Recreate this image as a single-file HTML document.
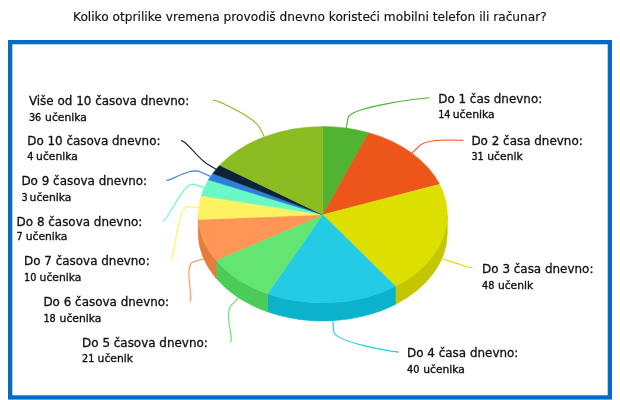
<!DOCTYPE html>
<html lang="sr"><head><meta charset="utf-8"><title>Anketa</title>
<style>html,body{margin:0;padding:0;background:#fff}body{width:620px;height:400px;overflow:hidden}svg{display:block}.t{font-family:"DejaVu Sans","Liberation Sans",sans-serif;fill:#111;stroke:#111;stroke-width:0.3px}.n{font-family:"DejaVu Sans Condensed","DejaVu Sans","Liberation Sans",sans-serif}.b{font-family:"DejaVu Sans","Liberation Sans",sans-serif;fill:#111;stroke:#111;stroke-width:0.35px}</style></head><body>
<svg width="620" height="400" viewBox="0 0 620 400">
<rect x="0" y="0" width="620" height="400" fill="#ffffff"/>
<text class="t" x="309.9" y="21" font-size="12.19" text-anchor="middle" style="stroke-width:0.15px">Koliko otprilike vremena provodiš dnevno koristeći mobilni telefon ili računar?</text>
<rect x="10.15" y="42.15" width="599.70" height="355.30" fill="none" stroke="#056bc3" stroke-width="4.30"/>
<path d="M447.25 214.70 A124.50 88.20 0 0 1 395.38 286.34 L395.38 304.44 A124.50 88.20 0 0 0 447.25 232.80 Z" fill="#c4c600" stroke="#c4c600" stroke-width="0.6" stroke-linejoin="round"/>
<path d="M395.38 286.34 A124.50 88.20 0 0 1 267.43 293.72 L267.43 311.82 A124.50 88.20 0 0 0 395.38 304.44 Z" fill="#0bb2cc" stroke="#0bb2cc" stroke-width="0.6" stroke-linejoin="round"/>
<path d="M267.43 293.72 A124.50 88.20 0 0 1 216.07 260.17 L216.07 278.27 A124.50 88.20 0 0 0 267.43 311.82 Z" fill="#4bcc59" stroke="#4bcc59" stroke-width="0.6" stroke-linejoin="round"/>
<path d="M216.07 260.17 A124.50 88.20 0 0 1 198.25 214.70 L198.25 232.80 A124.50 88.20 0 0 0 216.07 278.27 Z" fill="#e67d3c" stroke="#e67d3c" stroke-width="0.6" stroke-linejoin="round"/>
<path d="M322.75 214.70 L322.75 126.50 A124.50 88.20 0 0 1 368.83 132.76 Z" fill="#50B432" stroke="#50B432" stroke-width="0.5" stroke-linejoin="round"/>
<path d="M322.75 214.70 L368.83 132.76 A124.50 88.20 0 0 1 439.61 184.28 Z" fill="#ED561B" stroke="#ED561B" stroke-width="0.5" stroke-linejoin="round"/>
<path d="M322.75 214.70 L439.61 184.28 A124.50 88.20 0 0 1 395.38 286.34 Z" fill="#DDDF00" stroke="#DDDF00" stroke-width="0.5" stroke-linejoin="round"/>
<path d="M322.75 214.70 L395.38 286.34 A124.50 88.20 0 0 1 267.43 293.72 Z" fill="#24CBE5" stroke="#24CBE5" stroke-width="0.5" stroke-linejoin="round"/>
<path d="M322.75 214.70 L267.43 293.72 A124.50 88.20 0 0 1 216.07 260.17 Z" fill="#64E572" stroke="#64E572" stroke-width="0.5" stroke-linejoin="round"/>
<path d="M322.75 214.70 L216.07 260.17 A124.50 88.20 0 0 1 198.43 219.48 Z" fill="#FF9655" stroke="#FF9655" stroke-width="0.5" stroke-linejoin="round"/>
<path d="M322.75 214.70 L198.43 219.48 A124.50 88.20 0 0 1 201.16 195.74 Z" fill="#FFF263" stroke="#FFF263" stroke-width="0.5" stroke-linejoin="round"/>
<path d="M322.75 214.70 L201.16 195.74 A124.50 88.20 0 0 1 208.38 179.85 Z" fill="#6AF9C4" stroke="#6AF9C4" stroke-width="0.5" stroke-linejoin="round"/>
<path d="M322.75 214.70 L208.38 179.85 A124.50 88.20 0 0 1 212.75 173.39 Z" fill="#2f7ed8" stroke="#2f7ed8" stroke-width="0.5" stroke-linejoin="round"/>
<path d="M322.75 214.70 L212.75 173.39 A124.50 88.20 0 0 1 219.70 165.20 Z" fill="#0d233a" stroke="#0d233a" stroke-width="0.5" stroke-linejoin="round"/>
<path d="M322.75 214.70 L219.70 165.20 A124.50 88.20 0 0 1 322.75 126.50 Z" fill="#8bbc21" stroke="#8bbc21" stroke-width="0.5" stroke-linejoin="round"/>
<path d="M429.30 97.70 C424.30 97.70 350.28 106.87 348.25 117.47 L346.21 128.08" fill="none" stroke="#50B432" stroke-width="1.15"/>
<path d="M463.30 140.30 C458.30 140.30 427.45 138.12 419.71 145.65 L411.97 153.18" fill="none" stroke="#ED561B" stroke-width="1.15"/>
<path d="M472.50 267.70 C467.50 267.70 462.41 265.03 452.09 261.86 L441.77 258.69" fill="none" stroke="#DDDF00" stroke-width="1.15"/>
<path d="M399.00 352.10 C394.00 352.10 334.61 342.24 333.73 331.47 L332.85 320.71" fill="none" stroke="#24CBE5" stroke-width="1.15"/>
<path d="M230.00 341.70 C235.00 341.70 223.72 313.53 231.04 305.59 L238.36 297.65" fill="none" stroke="#64E572" stroke-width="1.15"/>
<path d="M189.50 301.40 C194.50 301.40 183.09 265.03 193.41 261.86 L203.73 258.69" fill="none" stroke="#FF9655" stroke-width="1.15"/>
<path d="M170.00 260.40 C175.00 260.40 177.13 205.79 187.90 206.67 L198.66 207.54" fill="none" stroke="#FFF263" stroke-width="1.15"/>
<path d="M162.50 221.40 C167.50 221.40 183.68 181.05 193.96 184.36 L204.24 187.67" fill="none" stroke="#6AF9C4" stroke-width="1.15"/>
<path d="M166.40 180.40 C171.40 180.40 191.00 167.25 200.74 171.92 L210.48 176.59" fill="none" stroke="#2f7ed8" stroke-width="1.15"/>
<path d="M181.00 140.40 C186.00 140.40 197.56 158.09 206.82 163.66 L216.07 169.23" fill="none" stroke="#0d233a" stroke-width="1.15"/>
<path d="M213.00 100.10 C218.00 100.10 254.32 117.69 259.37 127.23 L264.43 136.77" fill="none" stroke="#8bbc21" stroke-width="1.15"/>
<text class="t" x="438.2" y="102.6" font-size="11.95">Do 1 čas dnevno:</text>
<text class="b" x="438.2" y="117.7" font-size="10.75"><tspan class="n">14</tspan> <tspan x="452.8">učenika</tspan></text>
<text class="t" x="471.4" y="145.2" font-size="11.95">Do 2 časa dnevno:</text>
<text class="b" x="471.4" y="160.0" font-size="10.75"><tspan class="n">31</tspan> <tspan x="487.3">učenik</tspan></text>
<text class="t" x="482.1" y="272.6" font-size="11.95">Do 3 časa dnevno:</text>
<text class="b" x="482.1" y="288.8" font-size="10.75"><tspan class="n">48</tspan> <tspan x="497.9">učenik</tspan></text>
<text class="t" x="407.0" y="357.0" font-size="11.95">Do 4 časa dnevno:</text>
<text class="b" x="407.0" y="372.5" font-size="10.75"><tspan class="n">40</tspan> <tspan x="423.2">učenika</tspan></text>
<text class="t" x="82.1" y="346.6" font-size="11.95">Do 5 časova dnevno:</text>
<text class="b" x="82.1" y="361.8" font-size="10.75"><tspan class="n">21</tspan> <tspan x="97.6">učenik</tspan></text>
<text class="t" x="43.4" y="306.3" font-size="11.95">Do 6 časova dnevno:</text>
<text class="b" x="43.4" y="321.5" font-size="10.75"><tspan class="n">18</tspan> <tspan x="59.6">učenika</tspan></text>
<text class="t" x="24.0" y="265.3" font-size="11.95">Do 7 časova dnevno:</text>
<text class="b" x="24.0" y="281.0" font-size="10.75"><tspan class="n">10</tspan> <tspan x="39.6">učenika</tspan></text>
<text class="t" x="16.6" y="226.3" font-size="11.95">Do 8 časova dnevno:</text>
<text class="b" x="16.6" y="240.2" font-size="10.75"><tspan class="n">7</tspan> <tspan x="25.7">učenika</tspan></text>
<text class="t" x="21.4" y="185.3" font-size="11.95">Do 9 časova dnevno:</text>
<text class="b" x="21.4" y="200.5" font-size="10.75"><tspan class="n">3</tspan> <tspan x="29.6">učenika</tspan></text>
<text class="t" x="27.2" y="145.3" font-size="11.95">Do 10 časova dnevno:</text>
<text class="b" x="27.2" y="160.2" font-size="10.75"><tspan class="n">4</tspan> <tspan x="36.1">učenika</tspan></text>
<text class="t" x="28.9" y="105.0" font-size="11.95">Više od 10 časova dnevno:</text>
<text class="b" x="28.9" y="120.5" font-size="10.75"><tspan class="n">36</tspan> <tspan x="45.1">učenika</tspan></text>
</svg></body></html>
